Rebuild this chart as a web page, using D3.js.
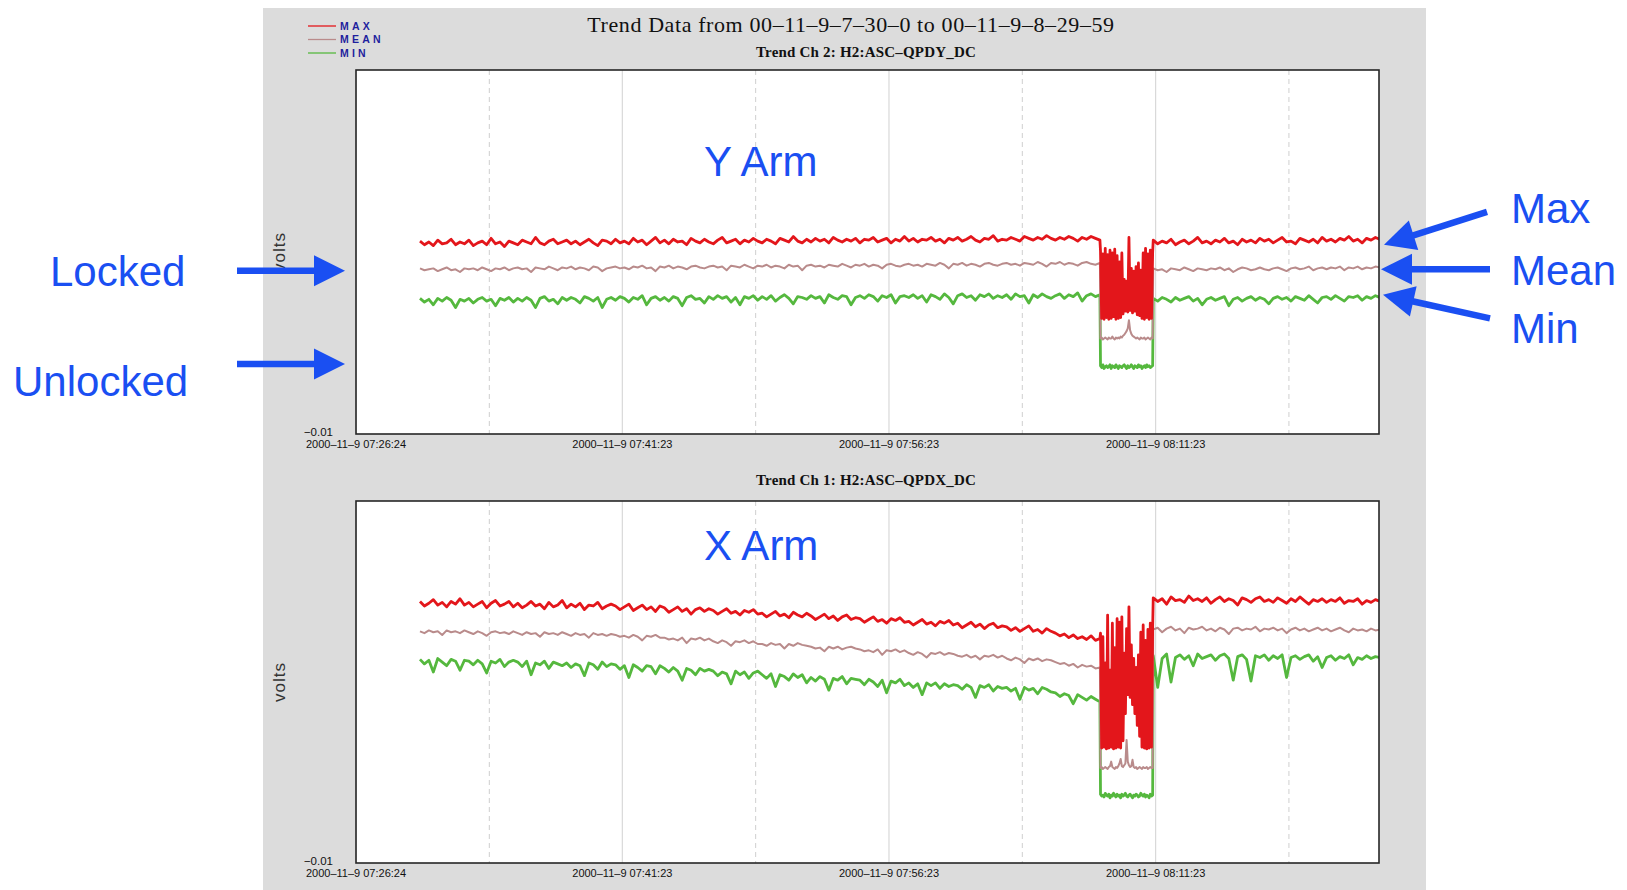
<!DOCTYPE html>
<html>
<head>
<meta charset="utf-8">
<script src="https://cdn.jsdelivr.net/npm/d3@7"></script>
<style>
  html, body { margin: 0; padding: 0; background: #ffffff; }
  svg { display: block; }
</style>
</head>
<body>
<svg id="chart" width="1627" height="890"></svg>
<script>
// ---------------- data (values in millivolts) ----------------
const seriesNames  = ["MAX", "MEAN", "MIN"];
const seriesColors = ["#e3161b", "#b98b8b", "#55b83e"];

const mainTitle = "Trend Data from 00\u201311\u20139\u20137\u201330\u20130 to 00\u201311\u20139\u20138\u201329\u201359";
const channelTitles = ["Trend Ch 2: H2:ASC\u2013QPDY_DC", "Trend Ch 1: H2:ASC\u2013QPDX_DC"];

const xDomain   = ["07:26:24", "08:23:57"];
const tickTimes = ["07:26:24", "07:41:23", "07:56:23", "08:11:23"];
const tickLabels = ["2000\u201311\u20139 07:26:24", "2000\u201311\u20139 07:41:23",
                    "2000\u201311\u20139 07:56:23", "2000\u201311\u20139 08:11:23"];
const halfGridTimes = ["07:33:54", "07:48:53", "08:03:53", "08:18:53"];
const yDomainMv = [-10, 30];
const yTickMv = [-10];

// sampling of the three stretches: locked, unlocked, locked again
const segmentStarts = ["07:30:00", "08:08:17", "08:11:15"];
const segmentStepSec = [15, 4, 15];

// ---- Ch 2 (Y arm) ----
const yArmMaxA = [
  11.2,10.8,11.1,10.7,11.3,10.9,11.0,11.4,10.8,11.1,10.9,
  11.3,10.7,11.0,11.2,10.8,11.5,10.9,11.1,10.6,11.2,11.0,
  10.8,11.3,11.1,10.9,11.6,11.0,10.8,11.2,11.4,10.9,11.1,
  11.3,10.9,11.2,10.8,11.1,11.4,11.0,10.7,11.3,11.2,10.9,
  11.4,11.0,11.2,10.9,11.5,11.1,11.3,10.8,11.2,11.6,11.0,
  11.3,10.9,11.4,11.1,11.2,10.8,11.5,11.2,11.0,11.4,11.1,
  10.9,11.3,11.6,11.0,11.2,11.4,10.9,11.3,11.1,11.5,11.2,
  11.0,11.4,11.2,10.9,11.5,11.3,11.1,11.7,11.2,11.0,11.4,
  11.1,11.5,11.2,11.4,11.0,11.6,11.3,11.1,11.4,11.2,11.5,
  11.0,11.4,11.3,11.6,11.1,11.3,11.5,11.0,11.4,11.2,11.7,
  11.2,11.5,11.1,11.4,11.3,11.6,11.2,11.4,11.0,11.5,11.3,
  11.6,11.2,11.4,11.7,11.3,11.1,11.5,11.4,11.8,11.2,11.4,
  11.3,11.6,11.4,11.2,11.7,11.5,11.3,11.6,11.4,11.8,11.5,
  11.3,11.6,11.4,11.7,11.5,11.2,11.6,11.4,11.7,11.5,11.3
];
const yArmMaxB = [
  10.1,2.7,9.8,2.6,10.4,2.8,9.7,2.6,10.2,
  2.7,9.9,2.9,10.3,2.6,9.6,2.7,8.9,2.8,
  9.9,3.2,7.0,3.5,6.8,3.4,11.6,3.6,8.2,
  3.3,7.9,3.5,8.4,3.1,8.8,3.0,8.0,2.7,
  9.9,2.6,10.4,2.8,9.8,2.6,10.2,2.7,10.0
];
const yArmMaxC = [
  11.3,10.9,11.2,11.0,11.4,10.8,11.1,11.3,10.9,11.2,11.6,11.0,11.2,
  10.9,11.3,11.1,11.5,11.0,11.2,10.8,11.4,11.1,11.3,11.0,11.5,11.2,
  11.4,11.0,11.3,11.6,11.1,11.2,10.9,11.5,11.3,11.1,11.4,11.0,11.6,
  11.2,11.4,11.1,11.5,11.3,11.7,11.2,11.4,11.0,11.5,11.3,11.6,11.4
];
const yArmMeanA = [
  8.2,8.0,8.1,8.2,7.9,8.1,8.3,8.0,8.1,7.8,8.2,
  8.1,8.2,8.0,8.3,8.1,7.9,8.2,8.1,8.3,8.0,8.2,
  8.3,8.1,8.2,7.8,8.3,8.2,8.1,8.4,8.2,8.0,8.3,
  8.2,8.4,8.1,8.3,8.2,8.0,8.4,8.3,7.9,8.2,8.3,
  8.4,8.2,8.3,8.1,8.4,8.3,8.5,8.2,8.3,7.9,8.4,
  8.3,8.5,8.2,8.4,8.3,8.1,8.4,8.5,8.3,8.2,8.4,
  8.5,8.3,8.4,8.0,8.5,8.4,8.3,8.6,8.4,8.2,8.5,
  8.4,8.6,8.3,8.5,8.4,8.2,8.6,8.4,8.5,8.0,8.5,
  8.6,8.4,8.5,8.3,8.6,8.5,8.4,8.7,8.5,8.3,8.6,
  8.5,8.7,8.4,8.6,8.5,8.2,8.6,8.7,8.5,8.4,8.6,
  8.7,8.5,8.6,8.4,8.7,8.6,8.5,8.8,8.6,8.2,8.7,
  8.6,8.8,8.5,8.7,8.6,8.4,8.7,8.8,8.6,8.5,8.7,
  8.8,8.6,8.7,8.5,8.8,8.7,8.6,8.9,8.7,8.4,8.8,
  8.7,8.9,8.6,8.8,8.7,8.5,8.8,8.9,8.7,8.6,8.8
];
const yArmMeanB = [
  0.5,0.6,0.4,0.5,0.6,0.5,0.4,0.6,0.5,
  0.5,0.7,0.5,0.4,0.6,0.5,0.6,0.5,0.7,
  0.6,0.8,0.9,1.1,1.3,1.6,2.5,1.4,1.0,
  0.8,0.7,0.6,0.5,0.6,0.5,0.4,0.6,0.5,
  0.5,0.6,0.4,0.5,0.6,0.5,0.4,0.6,0.5
];
const yArmMeanC = [
  8.2,8.0,8.1,7.8,8.2,8.1,8.0,8.3,8.1,7.9,8.2,8.1,8.0,
  8.2,8.1,8.3,8.0,8.2,7.8,8.1,8.3,8.2,8.0,8.1,8.3,8.1,
  8.0,8.2,8.3,8.1,7.9,8.2,8.3,8.1,8.2,8.4,8.0,8.2,8.3,
  8.1,8.3,8.2,8.4,8.0,8.3,8.2,8.4,8.1,8.3,8.2,8.4,8.3
];
const yArmMinA = [
  4.9,4.5,4.8,4.2,4.9,4.6,5.0,4.7,3.9,4.8,4.6,
  4.9,4.4,4.8,5.0,4.6,4.8,4.1,4.9,4.7,5.0,4.5,
  4.9,4.6,5.0,4.7,3.9,4.9,5.1,4.6,4.8,4.3,5.0,
  4.7,5.0,4.8,4.4,5.1,4.9,4.6,5.0,3.9,4.8,5.0,
  4.7,5.1,4.9,4.5,5.0,4.8,5.2,4.2,4.9,5.1,4.7,
  5.0,4.6,5.1,4.9,4.1,5.0,5.2,4.8,4.9,4.4,5.1,
  4.8,5.2,4.9,5.1,4.5,5.0,4.2,5.1,4.9,5.2,4.7,
  5.1,4.8,5.2,4.6,5.0,5.3,4.9,4.3,5.1,5.0,4.8,
  5.2,4.9,5.1,4.4,5.3,5.0,4.8,5.2,5.1,4.2,5.0,
  5.2,4.9,5.3,5.1,4.6,5.2,5.0,5.3,4.4,5.1,5.2,
  5.0,5.3,4.9,5.2,4.5,5.3,5.1,4.8,5.4,5.0,4.3,
  5.2,5.4,5.0,5.2,4.7,5.3,5.1,5.4,4.9,5.2,5.0,
  5.3,4.8,5.4,5.1,5.2,4.4,5.3,5.0,5.4,5.1,4.9,
  5.2,5.4,4.9,5.3,5.1,5.5,4.6,5.2,5.4,5.1,5.3
];
const yArmMinB = [
  -2.5,-2.7,-2.4,-2.8,-2.6,-2.5,-2.7,-2.6,-2.4,
  -2.8,-2.5,-2.6,-2.7,-2.4,-2.6,-2.8,-2.5,-2.6,
  -2.7,-2.5,-2.4,-2.6,-2.8,-2.5,-2.7,-2.6,-2.4,
  -2.6,-2.8,-2.5,-2.6,-2.7,-2.4,-2.6,-2.5,-2.8,
  -2.6,-2.5,-2.7,-2.4,-2.6,-2.5,-2.7,-2.6,-2.5
];
const yArmMinC = [
  4.9,4.6,5.0,4.8,4.5,5.0,4.7,4.9,5.1,4.6,4.9,4.2,4.8,
  5.0,4.7,4.9,5.1,4.1,4.8,5.0,4.6,4.9,5.1,4.7,5.0,4.8,
  4.3,4.9,5.1,4.8,5.0,4.6,5.1,4.9,4.7,5.2,4.8,4.4,5.0,
  5.1,4.8,5.2,4.9,4.6,5.1,5.0,5.2,4.7,5.1,4.9,5.2,5.0
];

// ---- Ch 1 (X arm) ----
const xArmMaxA = [
  18.9,18.4,18.7,19.1,18.5,18.8,18.3,18.9,18.6,19.2,18.5,
  18.8,18.3,18.6,18.9,18.2,18.7,19.0,18.4,18.6,18.9,18.3,
  18.7,18.2,18.5,18.9,18.4,18.6,18.1,18.8,18.3,18.5,19.0,
  18.2,18.6,18.3,18.7,18.0,18.5,18.4,18.8,18.1,18.4,18.6,
  18.4,18.0,18.3,18.6,17.9,18.2,18.5,18.0,18.3,17.8,18.4,
  18.2,17.7,18.0,18.3,17.8,18.1,17.5,18.0,18.2,17.8,18.1,
  17.9,17.5,17.8,18.1,17.6,17.8,17.4,17.9,17.7,18.0,17.5,
  17.6,17.2,17.5,17.8,17.3,17.5,17.1,17.7,17.4,17.2,17.6,
  17.3,16.9,17.2,17.5,17.0,17.3,16.8,17.2,17.4,16.9,17.1,
  17.0,16.6,16.9,17.2,16.7,16.9,16.5,17.0,16.8,17.1,16.6,
  16.7,16.3,16.6,16.9,16.4,16.6,16.2,16.7,16.5,16.8,16.3,
  16.5,16.0,16.3,16.6,16.1,16.4,15.9,16.3,16.5,16.0,16.2,
  16.1,15.7,16.0,15.6,15.9,16.2,15.6,15.8,15.4,15.9,15.6,
  15.4,15.1,15.3,14.9,15.2,14.8,15.0,14.7,15.1,14.6,14.8
];
const xArmMaxB = [
  15.4,2.7,15.0,2.8,12.1,2.6,17.4,2.7,11.3,
  2.8,16.5,2.6,13.8,2.7,17.0,2.8,16.6,2.7,
  17.2,3.5,13.2,6.5,15.9,8.6,18.3,8.3,14.1,
  7.5,12.6,6.5,11.6,5.2,13.0,4.0,15.5,2.8,
  16.3,2.7,14.6,2.6,15.8,2.7,16.5,2.8,16.0
];
const xArmMaxC = [
  19.3,18.9,19.2,18.6,19.4,19.0,19.1,18.8,19.5,19.0,19.2,18.9,19.3,
  18.7,19.1,19.4,18.9,19.2,19.0,18.5,19.3,19.1,18.8,19.2,19.4,18.9,
  19.1,18.8,19.3,19.0,18.7,19.2,18.9,19.4,19.0,18.6,19.1,18.9,19.2,
  18.8,19.1,18.9,19.3,18.7,19.0,18.9,19.2,18.6,19.0,18.8,19.1,18.9
];
const xArmMeanA = [
  15.6,15.4,15.7,15.5,15.6,15.2,15.7,15.5,15.6,15.4,15.7,
  15.5,15.3,15.6,15.4,15.1,15.5,15.6,15.4,15.5,15.3,15.6,
  15.4,15.2,15.5,15.3,15.4,15.0,15.5,15.3,15.4,15.2,15.5,
  15.3,15.1,15.4,15.2,15.3,14.9,15.4,15.2,15.3,15.1,15.3,
  15.2,15.0,15.1,14.9,15.2,15.0,14.6,15.1,15.0,15.2,14.9,
  14.9,14.7,14.8,14.6,14.9,14.3,14.8,14.7,14.9,14.6,14.8,
  14.5,14.3,14.6,14.4,14.0,14.5,14.4,14.6,14.3,14.5,14.2,
  14.2,14.0,14.3,14.1,14.2,13.7,14.2,14.0,14.3,14.1,14.0,
  13.9,13.7,13.8,13.4,13.9,13.7,13.9,13.6,13.8,13.9,13.7,
  13.6,13.4,13.5,13.3,13.6,13.0,13.5,13.4,13.6,13.3,13.5,
  13.2,13.0,13.3,13.1,12.7,13.2,13.1,13.3,13.0,13.2,13.1,
  12.9,12.8,13.0,12.7,12.9,12.5,12.9,12.8,13.0,12.7,12.9,
  12.6,12.4,12.7,12.5,12.1,12.6,12.4,12.6,12.3,12.5,12.4,
  12.2,12.0,12.1,11.8,12.0,11.6,11.9,11.7,11.8,11.5,11.6
];
const xArmMeanB = [
  0.5,0.6,0.4,0.5,0.6,0.5,0.4,0.6,0.7,
  1.2,0.6,0.5,0.4,0.6,0.5,0.7,1.0,1.5,
  0.7,0.6,0.8,1.0,3.6,1.2,0.8,0.6,0.7,
  1.4,0.6,0.5,0.6,0.4,0.5,0.6,0.5,0.4,
  0.6,0.5,0.5,0.6,0.4,0.5,0.6,0.5,0.5
];
const xArmMeanC = [
  15.8,16.0,15.5,15.9,16.1,15.7,15.9,15.4,16.0,15.8,15.9,16.1,15.7,
  15.9,15.6,16.0,15.8,15.3,15.9,16.0,15.7,15.9,15.8,16.1,15.6,15.9,
  15.8,16.0,15.7,15.9,15.4,15.8,16.0,15.7,15.9,15.6,15.8,16.0,15.7,
  15.9,15.6,15.8,16.0,15.7,15.5,15.9,15.7,15.8,15.6,15.9,15.7,15.8
];
const xArmMinA = [
  12.5,12.0,12.4,11.1,12.6,12.2,11.8,12.5,12.3,11.3,12.4,
  12.3,11.9,12.4,12.0,11.0,12.3,12.1,12.5,11.7,12.2,12.4,
  12.2,11.7,12.3,10.8,12.1,11.9,12.3,11.5,12.2,12.0,11.8,
  12.1,11.6,12.0,11.8,10.7,12.1,11.9,11.4,12.2,11.7,12.0,
  11.9,11.4,11.8,10.5,11.9,11.6,11.2,11.8,11.7,10.9,11.8,
  11.5,11.1,11.6,11.2,10.2,11.5,11.3,10.8,11.5,11.2,11.4,
  11.2,10.7,11.1,10.9,9.8,11.2,10.8,11.1,10.4,11.0,11.2,
  10.8,10.4,10.9,9.5,10.8,10.6,10.2,10.9,10.5,10.8,9.9,
  10.5,10.1,10.6,10.3,9.1,10.4,10.2,10.6,9.8,10.4,10.3,
  10.2,9.7,10.3,10.0,9.5,10.2,8.8,10.1,9.9,10.3,9.6,
  9.9,9.4,9.8,8.6,9.9,9.6,9.9,9.3,9.8,9.5,9.7,
  9.6,9.2,9.7,9.4,8.3,9.6,9.4,9.7,9.0,9.5,9.3,
  9.4,9.0,9.3,8.1,9.4,9.1,9.3,8.7,9.4,9.2,8.9,
  8.8,8.4,8.7,8.5,7.6,8.6,8.3,8.0,8.4,8.1,7.8
];
const xArmMinB = [
  -2.4,-2.6,-2.5,-2.7,-2.3,-2.5,-2.6,-2.4,-2.8,
  -2.5,-2.6,-2.3,-2.5,-2.7,-2.4,-2.6,-2.5,-2.8,
  -2.4,-2.6,-2.5,-2.3,-2.6,-2.7,-2.5,-2.4,-2.6,
  -2.8,-2.5,-2.6,-2.4,-2.5,-2.7,-2.6,-2.3,-2.5,
  -2.6,-2.4,-2.7,-2.5,-2.6,-2.8,-2.4,-2.6,-2.5
];
const xArmMinC = [
  12.9,9.4,12.6,13.1,10.0,12.7,13.0,12.5,12.9,11.8,13.1,12.6,12.8,
  13.0,12.4,12.9,13.1,12.6,10.2,12.8,13.0,12.5,10.1,12.9,12.7,13.0,
  12.4,12.9,12.6,13.0,10.5,12.7,12.9,12.5,12.8,13.0,12.3,12.8,11.6,
  12.7,12.9,12.4,12.8,12.6,13.0,11.9,12.7,12.5,12.9,12.6,12.8,12.7
];

// ---------------- layout ----------------
const plotLeft = 356, plotRight = 1379;
const panels = [
  { title: channelTitles[0], titleY: 57, top: 70, bottom: 434,
    series: [[yArmMaxA, yArmMaxB, yArmMaxC], [yArmMeanA, yArmMeanB, yArmMeanC], [yArmMinA, yArmMinB, yArmMinC]],
    tag: "Y Arm", tagY: 176 },
  { title: channelTitles[1], titleY: 485, top: 501, bottom: 863,
    series: [[xArmMaxA, xArmMaxB, xArmMaxC], [xArmMeanA, xArmMeanB, xArmMeanC], [xArmMinA, xArmMinB, xArmMinC]],
    tag: "X Arm", tagY: 560 }
];
const strokeWidths = [2.8, 2.0, 2.8];
const calloutBlue = "#1a4ff2";

const parseT = d3.timeParse("%H:%M:%S");
const x = d3.scaleTime()
  .domain(xDomain.map(parseT))
  .range([plotLeft, plotRight]);

const svg = d3.select("#chart");
const defs = svg.append("defs");

// grey viewer background
svg.append("rect").attr("x", 263).attr("y", 8).attr("width", 1163).attr("height", 882)
  .attr("fill", "#dcdcdc");

// legend
const legend = svg.append("g");
seriesNames.forEach((name, i) => {
  const ly = 26 + i * 13.5;
  legend.append("line").attr("x1", 308).attr("x2", 336).attr("y1", ly).attr("y2", ly)
    .attr("stroke", seriesColors[i]).attr("stroke-width", 1.3);
  legend.append("text").attr("x", 340).attr("y", ly + 3.8)
    .attr("font-family", "Liberation Sans, Arial, sans-serif").attr("font-size", 10.5)
    .attr("font-weight", "bold").attr("letter-spacing", 3.2).attr("fill", "#1f1f9e")
    .text(name);
});

// main title
svg.append("text").attr("x", 851).attr("y", 32).attr("text-anchor", "middle")
  .attr("font-family", "Liberation Serif, Times New Roman, serif").attr("font-size", 22)
  .attr("letter-spacing", 0.6).attr("fill", "#111").text(mainTitle);

// turn the three stretches into time-stamped points
function buildPoints(segments) {
  const pts = [];
  segments.forEach((vals, k) => {
    const t0 = parseT(segmentStarts[k]).getTime();
    vals.forEach((v, i) => pts.push({ t: new Date(t0 + i * segmentStepSec[k] * 1000), v }));
  });
  return pts;
}

panels.forEach((p, pi) => {
  const y = d3.scaleLinear().domain(yDomainMv).range([p.bottom, p.top]);
  const g = svg.append("g");

  // channel title
  g.append("text").attr("x", 866).attr("y", p.titleY).attr("text-anchor", "middle")
    .attr("font-family", "Liberation Serif, Times New Roman, serif").attr("font-size", 15)
    .attr("font-weight", "bold").attr("letter-spacing", 0.2).attr("fill", "#111").text(p.title);

  // plot area
  g.append("rect").attr("x", plotLeft).attr("y", p.top)
    .attr("width", plotRight - plotLeft).attr("height", p.bottom - p.top).attr("fill", "#ffffff");

  const clipId = "clip" + pi;
  defs.append("clipPath").attr("id", clipId).append("rect")
    .attr("x", plotLeft).attr("y", p.top).attr("width", plotRight - plotLeft).attr("height", p.bottom - p.top);

  // vertical grid: solid at labelled ticks, dashed halfway between
  const grid = g.append("g").attr("clip-path", `url(#${clipId})`);
  grid.selectAll("line.major").data(tickTimes.map(parseT)).join("line")
    .attr("x1", d => x(d)).attr("x2", d => x(d)).attr("y1", p.top).attr("y2", p.bottom)
    .attr("stroke", "#d9d9d9").attr("stroke-width", 1.2);
  grid.selectAll("line.minor").data(halfGridTimes.map(parseT)).join("line")
    .attr("x1", d => x(d)).attr("x2", d => x(d)).attr("y1", p.top).attr("y2", p.bottom)
    .attr("stroke", "#cfcfcf").attr("stroke-width", 1).attr("stroke-dasharray", "5,4");

  // trend lines, drawn min first so max stays on top
  const line = d3.line().x(d => x(d.t)).y(d => y(d.v));
  const traces = g.append("g").attr("clip-path", `url(#${clipId})`);
  [2, 1, 0].forEach(si => {
    traces.append("path").datum(buildPoints(p.series[si]))
      .attr("d", line).attr("fill", "none")
      .attr("stroke", seriesColors[si]).attr("stroke-width", strokeWidths[si])
      .attr("stroke-linejoin", "round");
  });

  // frame
  g.append("rect").attr("x", plotLeft).attr("y", p.top)
    .attr("width", plotRight - plotLeft).attr("height", p.bottom - p.top)
    .attr("fill", "none").attr("stroke", "#262626").attr("stroke-width", 1.6);

  // y tick label
  g.selectAll("text.ytick").data(yTickMv).join("text")
    .attr("x", plotLeft - 23).attr("y", d => y(d) + 1.5).attr("text-anchor", "end")
    .attr("font-family", "Liberation Sans, Arial, sans-serif").attr("font-size", 11.5)
    .attr("fill", "#111").text(d => d3.format(".2f")(d / 1000));

  // time tick labels
  g.selectAll("text.xtick").data(tickTimes).join("text")
    .attr("x", d => x(parseT(d))).attr("y", p.bottom + 13.5).attr("text-anchor", "middle")
    .attr("font-family", "Liberation Sans, Arial, sans-serif").attr("font-size", 11)
    .attr("fill", "#111").text((d, i) => tickLabels[i]);

  // axis label
  const cy = (p.top + p.bottom) / 2;
  g.append("text").attr("transform", `translate(279,${cy}) rotate(-90)`)
    .attr("text-anchor", "middle").attr("dominant-baseline", "central")
    .attr("font-family", "Liberation Sans, Arial, sans-serif").attr("font-size", 17)
    .attr("letter-spacing", 1).attr("fill", "#333").text("volts");

  // arm tag
  svg.append("text").attr("x", 704).attr("y", p.tagY)
    .attr("font-family", "Liberation Sans, Arial, sans-serif").attr("font-size", 42)
    .attr("fill", calloutBlue).text(p.tag);

  p.y = y;
});

// callouts on the Y arm panel: [x px, level mV]
const callouts = [
  { text: "Locked",   tx: 50,   ty: 286, from: [237, 7.95],  to: [345, 7.95] },
  { text: "Unlocked", tx: 13,   ty: 396, from: [237, -2.3],  to: [345, -2.3] },
  { text: "Max",      tx: 1511, ty: 223, from: [1487, 14.4], to: [1384, 10.8] },
  { text: "Mean",     tx: 1511, ty: 285, from: [1490, 8.1],  to: [1381, 8.1] },
  { text: "Min",      tx: 1511, ty: 343, from: [1490, 2.7],  to: [1383, 5.3] }
];
const yTop = panels[0].y;
const notes = svg.append("g");
callouts.forEach(c => {
  const x1 = c.from[0], y1 = yTop(c.from[1]);
  const x2 = c.to[0],   y2 = yTop(c.to[1]);
  const dx = x2 - x1, dy = y2 - y1, len = Math.hypot(dx, dy);
  const ux = dx / len, uy = dy / len;
  const headLen = 31, headHalf = 15.5;
  const bx = x2 - ux * headLen, by = y2 - uy * headLen;
  notes.append("line").attr("x1", x1).attr("y1", y1).attr("x2", bx + ux).attr("y2", by + uy)
    .attr("stroke", calloutBlue).attr("stroke-width", 6.5);
  notes.append("polygon")
    .attr("points", [[x2, y2], [bx - uy * headHalf, by + ux * headHalf], [bx + uy * headHalf, by - ux * headHalf]]
      .map(q => q.join(",")).join(" "))
    .attr("fill", calloutBlue);
  notes.append("text").attr("x", c.tx).attr("y", c.ty)
    .attr("font-family", "Liberation Sans, Arial, sans-serif").attr("font-size", 42)
    .attr("fill", calloutBlue).text(c.text);
});
</script>
</body>
</html>
